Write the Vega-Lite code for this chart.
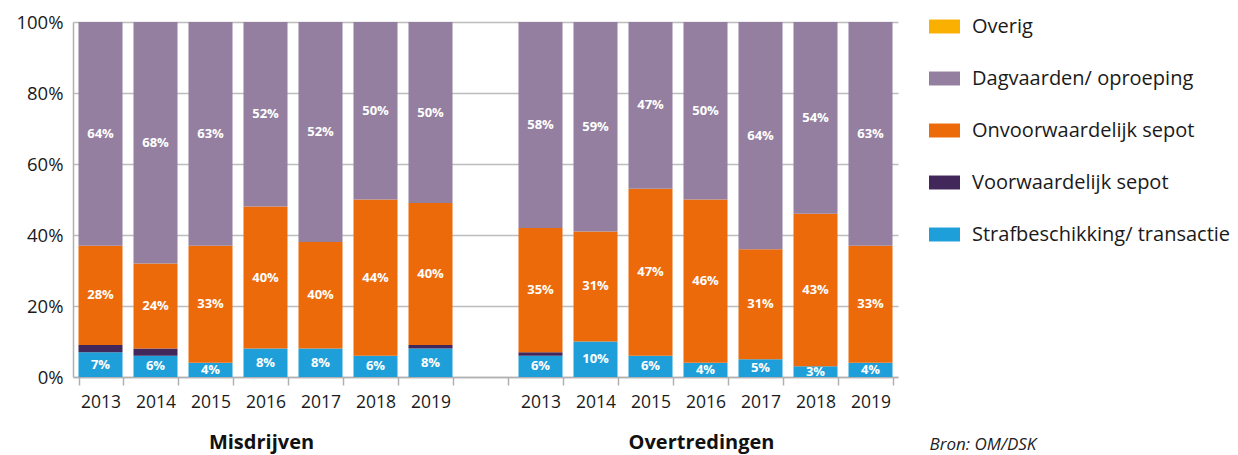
{
  "$schema": "https://vega.github.io/schema/vega-lite/v6.json",
  "width": 825,
  "height": 355,
  "autosize": {"type": "none"},
  "padding": {"left": 73, "top": 22, "right": 340, "bottom": 78},
  "config": {
    "font": "Open Sans",
    "view": {"stroke": null},
    "axis": {"labelFont": "Open Sans", "labelColor": "#1a1a1a"}
  },
  "encoding": {
    "x": {
      "field": "g",
      "type": "nominal",
      "scale": {
        "domain": ["M2013","M2014","M2015","M2016","M2017","M2018","M2019","gap","O2013","O2014","O2015","O2016","O2017","O2018","O2019"],
        "paddingInner": 0.2,
        "paddingOuter": 0.1
      },
      "axis": {
        "title": null,
        "labelExpr": "isString(datum.value) && datum.value != 'gap' ? substring(datum.value, 1) : ''",
        "labelAngle": 0,
        "labelFontSize": 17.5,
        "labelPadding": 8,
        "tickBand": "extent",
        "tickSize": 8,
        "tickColor": "#b0b0b0",
        "tickWidth": 1.5,
        "domainColor": "#b0b0b0",
        "domainWidth": 1.5,
        "grid": false
      }
    }
  },
  "layer": [
    {
      "data": {"name": "bars"},
      "mark": {"type": "bar"},
      "encoding": {
        "y": {
          "field": "v",
          "type": "quantitative",
          "stack": "zero",
          "scale": {"domain": [0, 1]},
          "axis": {
            "title": null,
            "format": ".0%",
            "values": [0, 0.2, 0.4, 0.6, 0.8, 1],
            "labelFontSize": 18.5,
            "labelPadding": 10,
            "ticks": false,
            "domainColor": "#b0b0b0",
            "domainWidth": 1.5,
            "gridColor": "#bdbdbd",
            "gridWidth": 1.5
          }
        },
        "color": {
          "field": "cat",
          "type": "nominal",
          "scale": {
            "domain": ["Overig","Dagvaarden/ oproeping","Onvoorwaardelijk sepot","Voorwaardelijk sepot","Strafbeschikking/ transactie"],
            "range": ["#F9B000","#947FA0","#EC6A0A","#42275A","#1F9FD9"]
          },
          "legend": {
            "title": null,
            "orient": "none",
            "legendX": 856,
            "legendY": -11,
            "padding": 0,
            "symbolType": "M-1,-0.45H1V0.45H-1Z",
            "symbolSize": 961,
            "symbolStrokeWidth": 0,
            "labelFontSize": 20,
            "labelColor": "#1a1a1a",
            "labelOffset": 12,
            "rowPadding": 26,
            "labelLimit": 400
          }
        },
        "order": {"field": "k", "type": "quantitative"}
      }
    },
    {
      "data": {"name": "bars"},
      "mark": {"type": "text", "color": "white", "fontWeight": "bold", "fontSize": 13, "baseline": "middle"},
      "encoding": {
        "y": {"field": "v", "type": "quantitative", "stack": "zero", "bandPosition": 0.5},
        "detail": {"field": "cat"},
        "order": {"field": "k", "type": "quantitative"},
        "text": {"field": "lab"}
      }
    },
    {
      "data": {"values": [
        {"g": "M2016", "t": "Misdrijven"},
        {"g": "O2016", "t": "Overtredingen"}
      ]},
      "mark": {"type": "text", "fontWeight": "bold", "fontSize": 20, "baseline": "alphabetic", "dx": -4, "dy": 72, "color": "#111"},
      "encoding": {
        "y": {"datum": 0, "type": "quantitative"},
        "text": {"field": "t"}
      }
    },
    {
      "data": {"values": [{"g": "O2019", "t": "Bron: OM/DSK"}]},
      "mark": {"type": "text", "fontStyle": "italic", "fontSize": 17, "align": "left", "baseline": "alphabetic", "dx": 59, "dy": 73, "color": "#222"},
      "encoding": {
        "y": {"datum": 0, "type": "quantitative"},
        "text": {"field": "t"}
      }
    }
  ],
  "datasets": {
    "bars": [
      {"g":"M2013","cat":"Strafbeschikking/ transactie","k":1,"v":0.07,"lab":"7%"},
      {"g":"M2013","cat":"Voorwaardelijk sepot","k":2,"v":0.02,"lab":""},
      {"g":"M2013","cat":"Onvoorwaardelijk sepot","k":3,"v":0.28,"lab":"28%"},
      {"g":"M2013","cat":"Dagvaarden/ oproeping","k":4,"v":0.63,"lab":"64%"},
      {"g":"M2014","cat":"Strafbeschikking/ transactie","k":1,"v":0.06,"lab":"6%"},
      {"g":"M2014","cat":"Voorwaardelijk sepot","k":2,"v":0.02,"lab":""},
      {"g":"M2014","cat":"Onvoorwaardelijk sepot","k":3,"v":0.24,"lab":"24%"},
      {"g":"M2014","cat":"Dagvaarden/ oproeping","k":4,"v":0.68,"lab":"68%"},
      {"g":"M2015","cat":"Strafbeschikking/ transactie","k":1,"v":0.04,"lab":"4%"},
      {"g":"M2015","cat":"Onvoorwaardelijk sepot","k":3,"v":0.33,"lab":"33%"},
      {"g":"M2015","cat":"Dagvaarden/ oproeping","k":4,"v":0.63,"lab":"63%"},
      {"g":"M2016","cat":"Strafbeschikking/ transactie","k":1,"v":0.08,"lab":"8%"},
      {"g":"M2016","cat":"Onvoorwaardelijk sepot","k":3,"v":0.40,"lab":"40%"},
      {"g":"M2016","cat":"Dagvaarden/ oproeping","k":4,"v":0.52,"lab":"52%"},
      {"g":"M2017","cat":"Strafbeschikking/ transactie","k":1,"v":0.08,"lab":"8%"},
      {"g":"M2017","cat":"Onvoorwaardelijk sepot","k":3,"v":0.30,"lab":"40%"},
      {"g":"M2017","cat":"Dagvaarden/ oproeping","k":4,"v":0.62,"lab":"52%"},
      {"g":"M2018","cat":"Strafbeschikking/ transactie","k":1,"v":0.06,"lab":"6%"},
      {"g":"M2018","cat":"Onvoorwaardelijk sepot","k":3,"v":0.44,"lab":"44%"},
      {"g":"M2018","cat":"Dagvaarden/ oproeping","k":4,"v":0.50,"lab":"50%"},
      {"g":"M2019","cat":"Strafbeschikking/ transactie","k":1,"v":0.08,"lab":"8%"},
      {"g":"M2019","cat":"Voorwaardelijk sepot","k":2,"v":0.01,"lab":""},
      {"g":"M2019","cat":"Onvoorwaardelijk sepot","k":3,"v":0.40,"lab":"40%"},
      {"g":"M2019","cat":"Dagvaarden/ oproeping","k":4,"v":0.51,"lab":"50%"},
      {"g":"O2013","cat":"Strafbeschikking/ transactie","k":1,"v":0.06,"lab":"6%"},
      {"g":"O2013","cat":"Voorwaardelijk sepot","k":2,"v":0.01,"lab":""},
      {"g":"O2013","cat":"Onvoorwaardelijk sepot","k":3,"v":0.35,"lab":"35%"},
      {"g":"O2013","cat":"Dagvaarden/ oproeping","k":4,"v":0.58,"lab":"58%"},
      {"g":"O2014","cat":"Strafbeschikking/ transactie","k":1,"v":0.10,"lab":"10%"},
      {"g":"O2014","cat":"Onvoorwaardelijk sepot","k":3,"v":0.31,"lab":"31%"},
      {"g":"O2014","cat":"Dagvaarden/ oproeping","k":4,"v":0.59,"lab":"59%"},
      {"g":"O2015","cat":"Strafbeschikking/ transactie","k":1,"v":0.06,"lab":"6%"},
      {"g":"O2015","cat":"Onvoorwaardelijk sepot","k":3,"v":0.47,"lab":"47%"},
      {"g":"O2015","cat":"Dagvaarden/ oproeping","k":4,"v":0.47,"lab":"47%"},
      {"g":"O2016","cat":"Strafbeschikking/ transactie","k":1,"v":0.04,"lab":"4%"},
      {"g":"O2016","cat":"Onvoorwaardelijk sepot","k":3,"v":0.46,"lab":"46%"},
      {"g":"O2016","cat":"Dagvaarden/ oproeping","k":4,"v":0.50,"lab":"50%"},
      {"g":"O2017","cat":"Strafbeschikking/ transactie","k":1,"v":0.05,"lab":"5%"},
      {"g":"O2017","cat":"Onvoorwaardelijk sepot","k":3,"v":0.31,"lab":"31%"},
      {"g":"O2017","cat":"Dagvaarden/ oproeping","k":4,"v":0.64,"lab":"64%"},
      {"g":"O2018","cat":"Strafbeschikking/ transactie","k":1,"v":0.03,"lab":"3%"},
      {"g":"O2018","cat":"Onvoorwaardelijk sepot","k":3,"v":0.43,"lab":"43%"},
      {"g":"O2018","cat":"Dagvaarden/ oproeping","k":4,"v":0.54,"lab":"54%"},
      {"g":"O2019","cat":"Strafbeschikking/ transactie","k":1,"v":0.04,"lab":"4%"},
      {"g":"O2019","cat":"Onvoorwaardelijk sepot","k":3,"v":0.33,"lab":"33%"},
      {"g":"O2019","cat":"Dagvaarden/ oproeping","k":4,"v":0.63,"lab":"63%"}
    ]
  }
}
